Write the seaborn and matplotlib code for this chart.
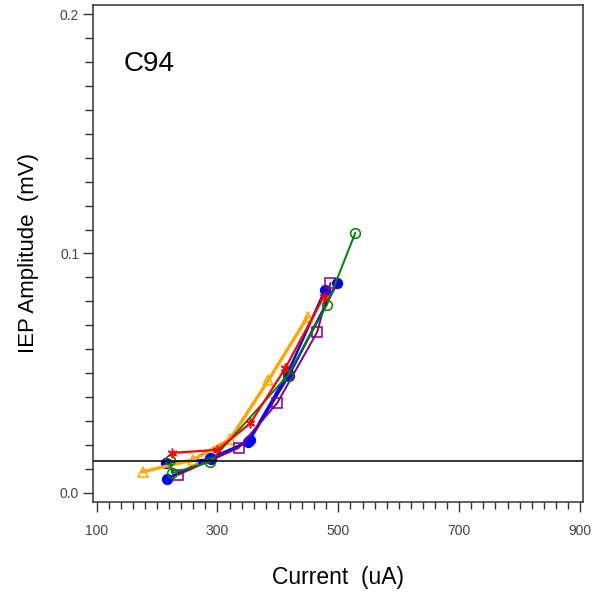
import matplotlib
matplotlib.use("Agg")
import matplotlib.pyplot as plt
import seaborn as sns
import pandas as pd
from matplotlib.ticker import MultipleLocator

sns.set_theme(style="white")
plt.rcParams['font.family'] = ['Liberation Sans', 'DejaVu Sans']

# Data (Current uA, IEP amplitude mV)
blue1_x = [216, 288, 351, 416, 478]
blue1_y = [0.0058, 0.0146, 0.0213, 0.0500, 0.0848]
blue2_x = [214, 290, 353, 418, 498]
blue2_y = [0.0125, 0.0140, 0.0220, 0.0490, 0.0877]
red_x = [224, 300, 354, 412, 476]
red_y = [0.0167, 0.0180, 0.0290, 0.0520, 0.0820]
green_x = [222, 225, 288, 416, 481, 528]
green_y = [0.0138, 0.0083, 0.0130, 0.0490, 0.0785, 0.1086]
orange_x = [176, 259, 321, 384, 449]
orange_y = [0.0088, 0.0138, 0.0225, 0.0470, 0.0735]
purple_x = [234, 335, 399, 465, 487]
purple_y = [0.0075, 0.0188, 0.0376, 0.0672, 0.0877]
ref_level = 0.0133
x_ticks = [100, 300, 500, 700, 900]
y_ticks = [0.0, 0.1, 0.2]
label_text = "C94"

fig = plt.figure(figsize=(5.94, 5.92), dpi=100)
ax = fig.add_axes([0.1566, 0.152, 0.825, 0.8396])

series = [
    (blue1_x, blue1_y, "blue", "o", "blue", 1.8),
    (blue2_x, blue2_y, "blue", "o", "blue", 1.8),
    (orange_x, orange_y, "orange", "^", "none", 2.4),
    (purple_x, purple_y, "purple", "s", "none", 1.4),
    (green_x, green_y, "green", "o", "none", 1.4),
    (red_x, red_y, "red", (6, 2, 0), "red", 1.6),
]
for xs, ys, col, mk, mfc, lw in series:
    df = pd.DataFrame({"x": xs, "y": ys})
    sns.lineplot(data=df, x="x", y="y", sort=False, color=col, lw=lw,
                 marker=mk, markersize=7, markerfacecolor=mfc,
                 markeredgecolor=col, markeredgewidth=1.1, ax=ax)

ax.axhline(ref_level, color="black", lw=1.1)

ax.set_xlim(94, 905)
ax.set_ylim(-0.0038, 0.2038)
ax.set_xticks(x_ticks)
ax.set_yticks(y_ticks)
ax.set_yticklabels(["0.0", "0.1", "0.2"])
ax.xaxis.set_minor_locator(MultipleLocator(20))
ax.yaxis.set_minor_locator(MultipleLocator(0.01))
ax.tick_params(axis="both", which="both", direction="out", colors="#333333",
               labelcolor="#444444", labelsize=10)
ax.tick_params(axis="x", which="major", length=7, width=1, pad=9)
ax.tick_params(axis="x", which="minor", length=5, width=1)
ax.tick_params(axis="y", which="major", length=7, width=1, pad=3)
ax.tick_params(axis="y", which="minor", length=6, width=1)
ax.tick_params(bottom=True, left=True, which="both")

for s in ax.spines.values():
    s.set_color("#333333")
    s.set_linewidth(1.1)

ax.set_xlabel("Current  (uA)", fontsize=16.5, labelpad=20, color="black")
ax.set_ylabel("IEP Amplitude  (mV)", fontsize=16, labelpad=15, color="black")
ax.text(145, 0.179, label_text, fontsize=20, color="black", va="center")

fig.savefig("out.png", dpi=100)
